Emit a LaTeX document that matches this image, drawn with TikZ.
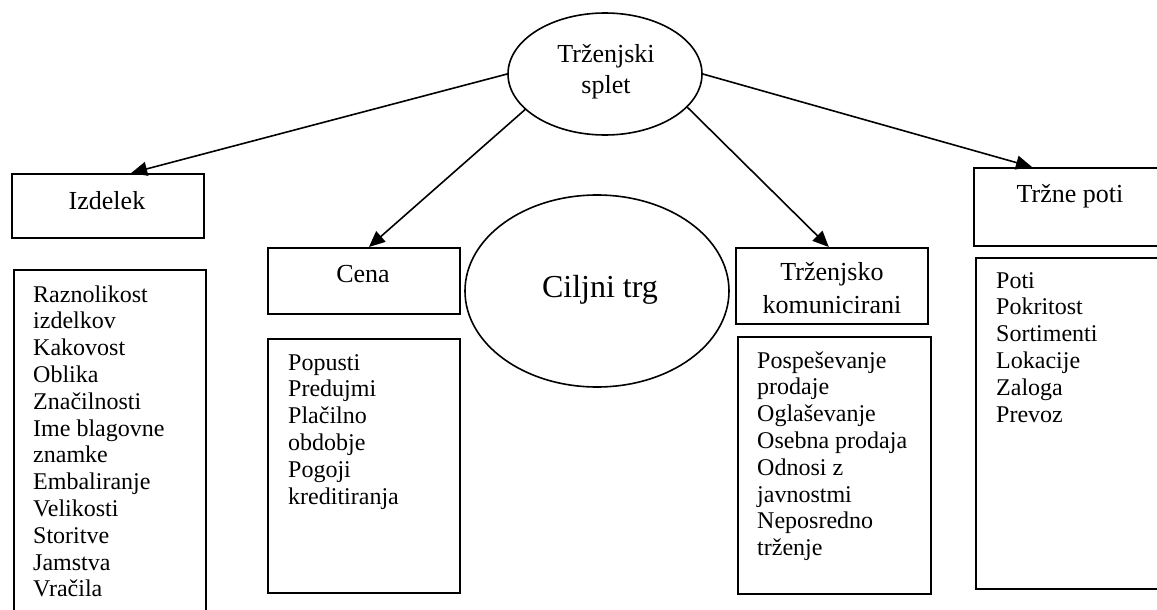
\documentclass[tikz,border=0pt]{standalone}
\usepackage{fontspec}
\setmainfont{Liberation Serif}
\usetikzlibrary{shapes.geometric,arrows.meta,calc}
\tikzset{
  box/.style={draw, line width=1.8pt, rectangle, inner sep=0pt},
  oval/.style={draw, line width=1.6pt, ellipse, inner sep=0pt},
  head/.style={inner sep=0pt, anchor=base, font=\fontsize{26}{31}\selectfont, align=center},
  lst/.style={inner sep=0pt, anchor=base west, font=\fontsize{24}{26.8}\selectfont},
  conn/.style={line width=1.6pt, -{Triangle[length=16pt,width=14pt]}}
}
\newcommand{\itemlist}[1]{\begin{tabular}[t]{@{}l@{}}#1\end{tabular}}
\begin{document}
\begin{tikzpicture}[x=1pt,y=-1pt]
\useasboundingbox (0,0) rectangle (1157,610);
\clip (0,0) rectangle (1157,610);
\fill[white] (0,0) rectangle (1157,610);

% central ellipses
\node[oval, minimum width=194pt, minimum height=122pt] (top) at (605,74) {};
\node[head] (topT) at (606,63) {Trženjski};
\node[head] (topS) at (606,93) {splet};
\node[oval, minimum width=264pt, minimum height=192pt] (cilj) at (597,291) {};
\node[inner sep=0pt, anchor=base, font=\fontsize{32}{36}\selectfont] (ciljT) at (600,297) {Ciljni trg};

% Izdelek
\node[box, anchor=north west, minimum width=192pt, minimum height=64pt] (izd) at (11,173) {};
\node[head] (izdT) at (107,209) {Izdelek};
\node[box, anchor=north west, minimum width=192pt, minimum height=380pt] (izdL) at (13,269) {};
\node[lst] (izdLT) at (33,302) {\fontsize{24}{26.8}\selectfont\itemlist{Raznolikost\\izdelkov\\Kakovost\\Oblika\\Značilnosti\\Ime blagovne\\znamke\\Embaliranje\\Velikosti\\Storitve\\Jamstva\\Vračila}};

% Cena
\node[box, anchor=north west, minimum width=192pt, minimum height=66pt] (cena) at (267,247) {};
\node[head] (cenaT) at (363,282) {Cena};
\node[box, anchor=north west, minimum width=192pt, minimum height=254pt] (cenaL) at (267,338) {};
\node[lst] (cenaLT) at (288,370) {\fontsize{24}{26.8}\selectfont\itemlist{Popusti\\Predujmi\\Plačilno\\obdobje\\Pogoji\\kreditiranja}};

% Trzenjsko komuniciranje
\node[box, anchor=north west, minimum width=192pt, minimum height=76pt] (kom) at (735,247) {};
\node[head] (komT1) at (832,280) {Trženjsko};
\node[head] (komT2) at (832,313) {komunicirani};
\node[box, anchor=north west, minimum width=193pt, minimum height=257pt] (komL) at (737,336) {};
\node[lst] (komLT) at (757,368) {\fontsize{24}{26.8}\selectfont\itemlist{Pospeševanje\\prodaje\\Oglaševanje\\Osebna prodaja\\Odnosi z\\javnostmi\\Neposredno\\trženje}};

% Trzne poti
\node[box, anchor=north west, minimum width=220pt, minimum height=78pt] (poti) at (973,167) {};
\node[head] (potiT) at (1070,202) {Tržne poti};
\node[box, anchor=north west, minimum width=220pt, minimum height=331pt] (potiL) at (975,257) {};
\node[lst] (potiLT) at (996,288) {\fontsize{24}{26.8}\selectfont\itemlist{Poti\\Pokritost\\Sortimenti\\Lokacije\\Zaloga\\Prevoz}};

% connectors
\draw[conn] (top.west) -- ($(izd.north west)!0.62!(izd.north east)$);
\draw[conn] (top.204) -- ($(cena.north west)!0.526!(cena.north east)$);
\draw[conn] (top.-22) -- ($(kom.north west)!0.484!(kom.north east)$);
\draw[conn] (top.east) -- ([xshift=59pt]poti.north west);
\end{tikzpicture}
\end{document}
